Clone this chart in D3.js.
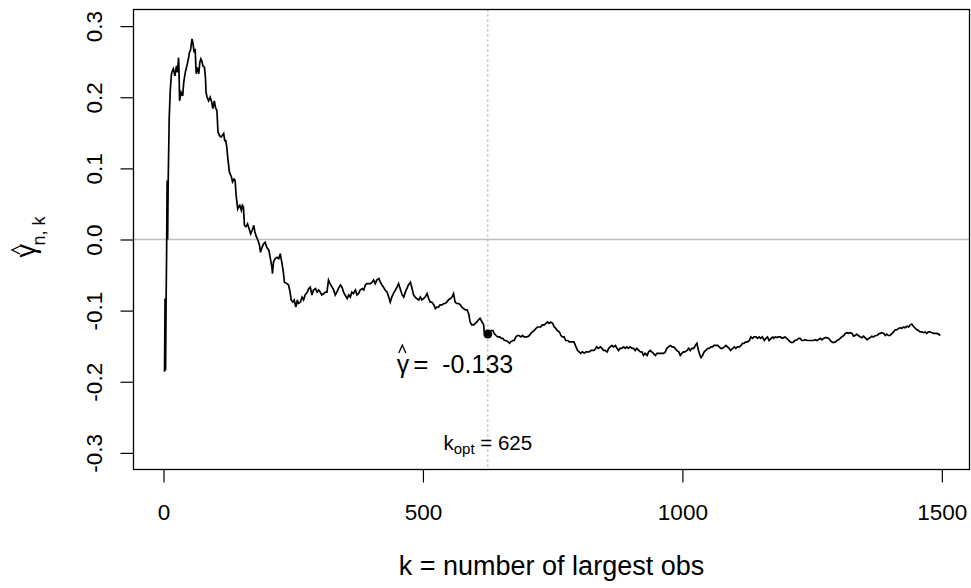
<!DOCTYPE html>
<html>
<head>
<meta charset="utf-8">
<script src="https://cdn.jsdelivr.net/npm/d3@7"></script>
<style>
  body { margin: 0; background: #fff; }
  svg { display: block; }
  text { font-family: "Liberation Sans", Arial, sans-serif; fill: #000; }
</style>
</head>
<body>
<svg id="chart" width="971" height="588"></svg>
<script>
// Hill-type estimate of the tail index against k (number of largest observations)
const kValues = [
  2,3,4,5,6,7,8,9,11,13,15,16,19,22,25,27,29,30,31,34,37,39,42,45,48,50,52,55,57,59,61,63,65,68,70,72,74,76,79,81,82,84,87,90,93,95,98,100,
  103,105,108,111,113,116,118,120,122,124,127,131,133,136,138,140,143,145,147,150,152,154,156,159,162,165,168,171,174,176,179,182,185,187,190,193,
  196,199,203,206,209,210,212,215,219,222,225,228,231,233,238,241,244,246,249,252,255,258,260,264,267,270,273,277,280,283,286,289,293,296,299,
  302,305,309,312,315,318,321,325,328,331,334,337,341,344,347,350,354,357,360,363,366,370,373,376,379,383,386,389,392,395,399,
  402,405,408,411,415,418,421,424,427,431,434,437,440,443,447,450,453,456,460,463,466,469,472,476,479,482,485,488,492,495,498,501,504,
  508,511,514,517,521,524,527,530,533,537,540,543,546,549,553,556,559,562,565,569,572,575,578,582,585,588,591,594,598,
  601,604,607,610,614,617,618,622,625,628,631,635,637,641,644,648,651,654,657,660,664,667,669,673,676,679,682,685,689,692,695,698,
  701,705,708,711,714,718,721,724,727,730,734,737,740,743,746,750,753,756,759,763,766,769,772,775,779,782,785,788,791,795,798,
  801,804,807,811,814,817,820,824,827,830,835,838,842,845,848,851,855,858,861,864,867,871,874,877,880,883,887,890,893,896,899,
  903,906,909,912,916,919,922,925,928,932,935,938,941,944,948,951,954,957,961,964,967,970,973,977,980,983,986,989,993,996,999,
  1002,1005,1009,1012,1015,1018,1022,1025,1028,1031,1034,1036,1039,1042,1045,1049,1052,1055,1058,1061,1065,1068,1071,1074,1077,
  1081,1084,1087,1090,1093,1097,1100,1103,1106,1110,1113,1116,1119,1122,1126,1129,1132,1135,1138,1142,1145,1148,1151,1154,1158,
  1161,1164,1167,1171,1174,1176,1179,1182,1185,1189,1192,1195,1198,1201,1205,1208,1211,1214,1217,1221,1224,1227,1230,1233,1237,
  1240,1243,1246,1250,1253,1256,1259,1262,1266,1269,1272,1275,1278,1282,1285,1288,1291,1295,1298,1301,1304,1307,1311,1314,1317,
  1320,1323,1327,1330,1333,1336,1339,1343,1346,1349,1352,1356,1359,1362,1365,1368,1372,1375,1378,1381,1384,1388,1391,1394,1397,
  1400,1404,1407,1410,1413,1417,1420,1423,1426,1429,1433,1436,1439,1442,1445,1449,1452,1455,1458,1461,1465,1468,1471,1474,1477,
  1481,1484,1487,1490,1494,1497
];
const gammaValues = [
  -0.186,-0.083,-0.184,-0.090,-0.020,0.083,0.000,0.078,0.170,0.209,0.230,0.235,0.240,0.230,0.244,0.235,0.256,0.235,0.195,0.207,0.202,0.221,0.235,0.244,0.254,0.263,0.266,0.282,0.275,0.263,0.268,0.233,0.242,0.233,0.249,0.254,0.251,0.244,0.242,0.226,0.207,0.200,0.195,0.200,0.193,0.184,0.195,0.186,
  0.181,0.151,0.146,0.144,0.146,0.149,0.139,0.139,0.130,0.114,0.095,0.088,0.081,0.085,0.083,0.062,0.043,0.046,0.048,0.041,0.048,0.046,0.020,0.018,0.022,0.015,0.008,0.013,0.020,0.011,0.004,-0.001,-0.008,-0.018,-0.011,-0.006,
  -0.004,-0.011,-0.015,-0.027,-0.039,-0.048,-0.032,-0.027,-0.025,-0.027,-0.020,-0.032,-0.046,-0.060,-0.062,-0.064,-0.074,-0.085,-0.088,-0.085,-0.095,-0.085,-0.090,-0.088,-0.081,-0.085,-0.078,-0.074,-0.069,-0.067,-0.078,-0.071,-0.069,-0.074,-0.071,
  -0.074,-0.078,-0.076,-0.074,-0.074,-0.057,-0.062,-0.067,-0.071,-0.078,-0.074,-0.069,-0.064,-0.067,-0.074,-0.078,-0.083,-0.078,-0.081,-0.074,-0.076,-0.071,-0.078,-0.076,-0.071,-0.069,-0.071,-0.064,-0.062,-0.062,-0.062,
  -0.060,-0.057,-0.062,-0.057,-0.055,-0.060,-0.064,-0.067,-0.071,-0.074,-0.081,-0.088,-0.081,-0.076,-0.071,-0.067,-0.062,-0.069,-0.078,-0.081,-0.074,-0.069,-0.064,-0.060,-0.069,-0.078,-0.081,-0.083,-0.085,-0.081,-0.085,-0.083,-0.081,
  -0.076,-0.083,-0.088,-0.088,-0.092,-0.097,-0.095,-0.095,-0.092,-0.092,-0.090,-0.090,-0.088,-0.085,-0.083,-0.081,-0.076,-0.088,-0.090,-0.090,-0.092,-0.095,-0.097,-0.099,-0.099,-0.104,-0.116,-0.120,-0.120,
  -0.118,-0.116,-0.113,-0.111,-0.116,-0.120,-0.130,-0.132,-0.133,-0.130,-0.128,-0.128,-0.132,-0.135,-0.137,-0.137,-0.139,-0.139,-0.142,-0.142,-0.144,-0.146,-0.144,-0.142,-0.142,-0.137,-0.135,-0.135,-0.137,-0.135,-0.137,-0.137,
  -0.137,-0.135,-0.132,-0.130,-0.128,-0.125,-0.123,-0.123,-0.123,-0.120,-0.120,-0.118,-0.116,-0.118,-0.116,-0.118,-0.123,-0.125,-0.128,-0.130,-0.135,-0.137,-0.137,-0.142,-0.142,-0.144,-0.144,-0.144,-0.144,-0.151,-0.156,
  -0.158,-0.160,-0.158,-0.160,-0.158,-0.158,-0.158,-0.156,-0.156,-0.156,-0.151,-0.153,-0.151,-0.153,-0.156,-0.156,-0.158,-0.153,-0.151,-0.149,-0.151,-0.149,-0.153,-0.156,-0.153,-0.153,-0.151,-0.153,-0.151,-0.153,-0.151,
  -0.153,-0.153,-0.156,-0.153,-0.156,-0.158,-0.158,-0.163,-0.160,-0.163,-0.158,-0.156,-0.158,-0.160,-0.163,-0.160,-0.160,-0.160,-0.160,-0.160,-0.158,-0.153,-0.151,-0.149,-0.151,-0.151,-0.153,-0.156,-0.158,-0.163,-0.160,
  -0.158,-0.158,-0.156,-0.153,-0.156,-0.153,-0.153,-0.149,-0.146,-0.156,-0.163,-0.166,-0.163,-0.158,-0.156,-0.153,-0.153,-0.151,-0.151,-0.149,-0.149,-0.149,-0.151,-0.153,-0.153,
  -0.151,-0.149,-0.151,-0.153,-0.156,-0.153,-0.151,-0.153,-0.151,-0.151,-0.149,-0.146,-0.146,-0.144,-0.144,-0.142,-0.137,-0.139,-0.137,-0.137,-0.139,-0.137,-0.139,-0.137,-0.142,
  -0.139,-0.137,-0.142,-0.139,-0.137,-0.139,-0.137,-0.138,-0.137,-0.137,-0.139,-0.138,-0.137,-0.139,-0.142,-0.144,-0.145,-0.144,-0.142,-0.141,-0.139,-0.139,-0.142,-0.142,-0.141,
  -0.142,-0.142,-0.142,-0.142,-0.142,-0.141,-0.142,-0.141,-0.139,-0.141,-0.139,-0.138,-0.138,-0.139,-0.142,-0.144,-0.145,-0.144,-0.142,-0.141,-0.139,-0.137,-0.135,-0.132,-0.131,
  -0.132,-0.131,-0.132,-0.136,-0.135,-0.133,-0.135,-0.137,-0.138,-0.136,-0.138,-0.141,-0.139,-0.138,-0.136,-0.137,-0.135,-0.135,-0.133,-0.132,-0.131,-0.132,-0.135,-0.133,-0.135,
  -0.135,-0.132,-0.130,-0.127,-0.127,-0.125,-0.124,-0.125,-0.123,-0.124,-0.122,-0.123,-0.120,-0.119,-0.122,-0.125,-0.127,-0.128,-0.130,-0.130,-0.131,-0.130,-0.132,-0.130,-0.130,
  -0.131,-0.132,-0.132,-0.132,-0.133,-0.135
];
const xTicks = [0, 500, 1000, 1500];
const yTicks = [-0.3, -0.2, -0.1, 0.0, 0.1, 0.2, 0.3];
const kOpt = 625;
const gammaOpt = -0.133;
const xTitle = "k = number of largest obs";

const svg = d3.select("#chart");
const FONT = "'Liberation Sans', Arial, sans-serif";

const x = d3.scaleLinear().domain([-57.8, 1553.3]).range([133.5, 969.5]);
const y = d3.scaleLinear().domain([-0.3234, 0.3234]).range([469.5, 9.5]);

const [x0, x1] = x.range();
const [yB, yT] = y.range();

// hat accent drawn as a small chevron (left, apex, right)
function hat(sel, cx, baseY, halfW, h) {
  sel.append("path")
    .attr("d", `M${cx - halfW},${baseY}L${cx},${baseY - h}L${cx + halfW},${baseY}`)
    .attr("fill", "none").attr("stroke", "#000").attr("stroke-width", 1.3);
}

// x axis
svg.append("g")
  .attr("transform", `translate(0,${yB})`)
  .call(d3.axisBottom(x).tickValues(xTicks).tickSize(13).tickFormat(d => String(d)))
  .call(g => g.select(".domain").remove())
  .call(g => g.attr("font-family", FONT).attr("font-size", 22.5))
  .call(g => g.selectAll(".tick line").attr("stroke", "#000").attr("stroke-width", 1.2))
  .call(g => g.selectAll(".tick text").attr("y", 50).attr("dy", null).attr("fill", "#000"));

// y axis (labels rotated, as in base graphics)
svg.append("g")
  .attr("transform", `translate(${x0},0)`)
  .call(d3.axisLeft(y).tickValues(yTicks).tickSize(13).tickFormat(d => d.toFixed(1)))
  .call(g => g.select(".domain").remove())
  .call(g => g.attr("font-family", FONT).attr("font-size", 22.5))
  .call(g => g.selectAll(".tick line").attr("stroke", "#000").attr("stroke-width", 1.2))
  .call(g => g.selectAll(".tick text")
    .attr("transform", "rotate(-90)")
    .attr("x", 0).attr("y", -32).attr("dy", null)
    .attr("text-anchor", "middle").attr("fill", "#000"));

// reference line at zero
svg.append("line")
  .attr("x1", x0).attr("x2", x1)
  .attr("y1", y(0)).attr("y2", y(0))
  .attr("stroke", "#bebebe").attr("stroke-width", 1.5);

// chosen k marker
svg.append("line")
  .attr("x1", x(kOpt)).attr("x2", x(kOpt))
  .attr("y1", yT).attr("y2", yB)
  .attr("stroke", "#a8a8a8").attr("stroke-width", 1.2)
  .attr("stroke-dasharray", "2,3");

// estimate path
const pts = kValues.map((k, i) => [k, gammaValues[i]]);
svg.append("path")
  .datum(pts)
  .attr("fill", "none")
  .attr("stroke", "#000")
  .attr("stroke-width", 1.7)
  .attr("stroke-linejoin", "miter")
  .attr("d", d3.line().x(d => x(d[0])).y(d => y(d[1])));

// plot frame
svg.append("rect")
  .attr("x", x0).attr("y", yT)
  .attr("width", x1 - x0).attr("height", yB - yT)
  .attr("fill", "none").attr("stroke", "#000").attr("stroke-width", 1.3);

// selected estimate
const px = x(kOpt), py = y(gammaOpt);
svg.append("circle").attr("cx", px).attr("cy", py).attr("r", 4.5).attr("fill", "#000");

// gamma-hat annotation
const gy = py + 39;
svg.append("text").attr("x", px - 91).attr("y", gy).attr("font-size", 25).text("γ");
hat(svg, px - 85.5, gy - 20, 3.5, 8);
svg.append("text").attr("x", px - 67).attr("y", gy).attr("font-size", 26)
  .attr("text-anchor", "middle").text("=");
svg.append("text").attr("x", px - 45.5).attr("y", gy).attr("font-size", 25).text(String(gammaOpt));

// k_opt annotation
const kt = svg.append("text")
  .attr("x", px).attr("y", 450)
  .attr("text-anchor", "middle").attr("font-size", 20.5);
kt.append("tspan").text("k");
kt.append("tspan").attr("font-size", 15).attr("dy", 4).text("opt");
kt.append("tspan").attr("dy", -4).text(" = " + kOpt);

// x title
svg.append("text")
  .attr("x", (x0 + x1) / 2).attr("y", 575)
  .attr("text-anchor", "middle").attr("font-size", 27)
  .text(xTitle);

// y title: gamma-hat with subscript n, k
const yt = svg.append("g").attr("transform", `translate(35,${(yT + yB) / 2}) rotate(-90)`);
yt.append("text").attr("x", -18).attr("y", 0).attr("font-size", 27).text("γ");
hat(yt, -10.5, -15, 4, 8);
yt.append("text").attr("x", -6).attr("y", 10).attr("font-size", 18).text("n, k");
</script>
</body>
</html>
